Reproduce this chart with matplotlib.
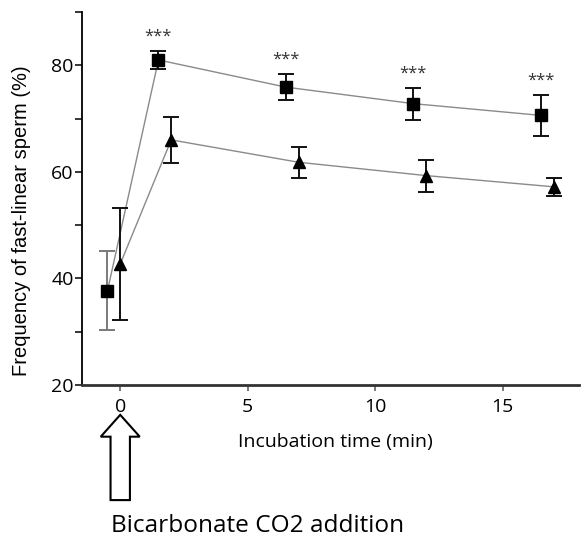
import matplotlib
matplotlib.use("Agg")
import matplotlib.pyplot as plt
from matplotlib.patches import FancyArrow
from matplotlib.ticker import MultipleLocator

# Data
time_bicarb = [-0.5, 1.5, 6.5, 11.5, 16.5]
freq_bicarb = [37.7, 81.0, 75.9, 72.8, 70.6]
err_bicarb = [7.4, 1.7, 2.4, 3.0, 3.9]

time_ctrl = [0.0, 2.0, 7.0, 12.0, 17.0]
freq_ctrl = [42.7, 66.0, 61.8, 59.3, 57.2]
err_ctrl = [10.5, 4.3, 2.9, 3.0, 1.7]

star_label = "***"
xticks = [0, 5, 10, 15]
yticks = [20, 40, 60, 80]

fig = plt.figure(figsize=(5.87, 5.37), dpi=100)
ax = fig.add_axes([82 / 587, 1 - 385 / 537, (579 - 82) / 587, (385 - 12) / 537])

tick_font = "Open Sans"

# connecting lines
ax.plot(time_bicarb, freq_bicarb, color="#8a8a8a", lw=1.0, zorder=2)
ax.plot(time_ctrl, freq_ctrl, color="#8a8a8a", lw=1.0, zorder=2)

# error bars
ecol_b = ["#7a7a7a", "#111111", "#111111", "#111111", "#111111"]
for x, y, e, c in zip(time_bicarb, freq_bicarb, err_bicarb, ecol_b):
    ax.errorbar(x, y, yerr=e, fmt="none", ecolor=c, elinewidth=1.4,
                capsize=5.5, capthick=1.4, zorder=3)
for x, y, e in zip(time_ctrl, freq_ctrl, err_ctrl):
    ax.errorbar(x, y, yerr=e, fmt="none", ecolor="#111111", elinewidth=1.4,
                capsize=5.5, capthick=1.4, zorder=3)

ax.plot(time_bicarb, freq_bicarb, ls="none", marker="s", ms=8, color="black", zorder=4)
ax.plot(time_ctrl, freq_ctrl, ls="none", marker="^", ms=8, color="black", zorder=4)

# significance stars
for x, y, e in list(zip(time_bicarb, freq_bicarb, err_bicarb))[1:]:
    ax.text(x, y + e + 1.2, star_label, ha="center", va="bottom",
            fontsize=12, color="#333333", family=tick_font)

ax.set_xlim(-1.5, 18)
ax.set_ylim(20, 90)
ax.set_xticks(xticks)
ax.set_yticks(yticks)
ax.yaxis.set_minor_locator(MultipleLocator(10))
for s in ["top", "right"]:
    ax.spines[s].set_visible(False)
ax.spines["left"].set_linewidth(1.3)
ax.spines["bottom"].set_linewidth(2.0)
ax.spines["bottom"].set_color("#333333")
ax.tick_params(axis="y", which="both", length=5, width=1.1, pad=1, labelsize=14)
ax.tick_params(axis="x", length=4, width=1.1, pad=5, labelsize=14, color="#555555")
for lab in ax.get_xticklabels() + ax.get_yticklabels():
    lab.set_family(tick_font)

fig.text(335 / 587, 1 - 442 / 537, "Incubation time (min)", ha="center", va="center",
         fontsize=14, family=tick_font)
fig.text(22 / 587, 1 - 221 / 537, "Frequency of fast-linear sperm (%)", rotation=90,
         ha="center", va="center", fontsize=14.5, family="Liberation Sans")

# arrow indicating bicarbonate addition
arrow = FancyArrow(0, -1.6, 0, 16.0, width=0.76, head_width=1.53, head_length=4.1,
                   length_includes_head=True, fc="white", ec="black", lw=1.5,
                   clip_on=False, zorder=5)
ax.add_patch(arrow)

fig.text(111 / 587, 1 - 526 / 537, "Bicarbonate CO2 addition", ha="left", va="center",
         fontsize=17.6, family=tick_font)

fig.savefig("out.png", dpi=100)
